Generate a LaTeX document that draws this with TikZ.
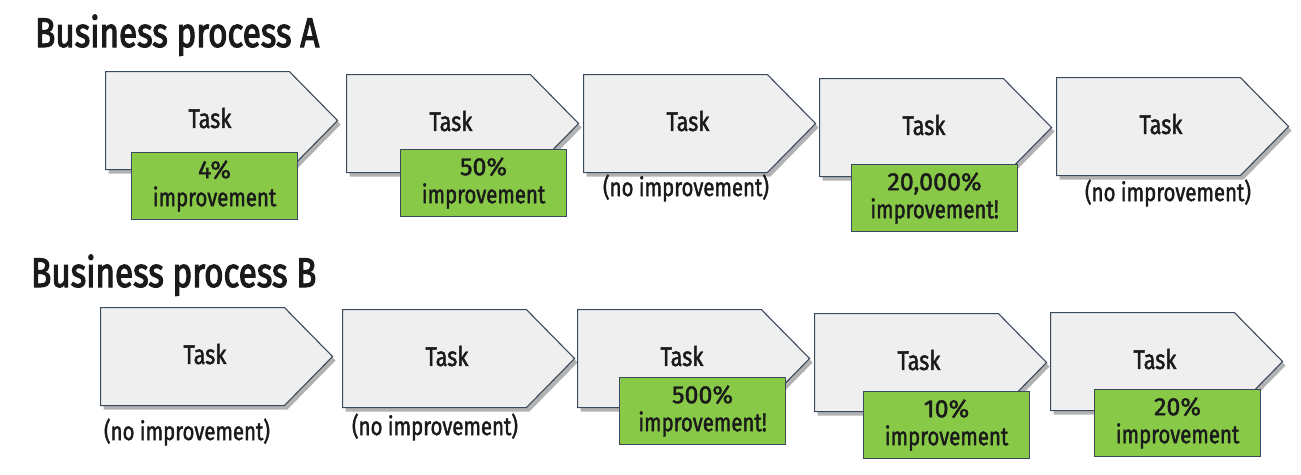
\documentclass[tikz,border=0pt]{standalone}
\usepackage{fontspec}
\newfontfamily\handc[FakeStretch=0.8,FakeBold=1.6]{Fira Sans}
\newfontfamily\hand[FakeBold=1.6]{Fira Sans}
\newfontfamily\handt[FakeStretch=0.8,FakeBold=2.6]{Fira Sans}
\usetikzlibrary{shapes.symbols,shadows}
\definecolor{edge}{HTML}{3A4A5C}
\definecolor{taskfill}{HTML}{EFEFEF}
\definecolor{gainfill}{HTML}{88C947}
\definecolor{ink}{HTML}{1A1A1A}
\tikzset{
  taskbox/.style={signal, signal to=east, signal pointer angle=91, draw=edge, fill=taskfill,
    line width=1.1pt, minimum width=232pt, minimum height=98pt, anchor=north west, inner sep=0pt,
    drop shadow={shadow xshift=3pt, shadow yshift=-4pt, opacity=0.3, fill=black}},
  tasktext/.style={font=\handc\fontsize{27}{30}\selectfont, text=ink, inner sep=0pt},
  gainbox/.style={draw=edge, fill=gainfill, line width=1.1pt, minimum width=166pt, minimum height=67pt,
    anchor=north west, align=center, inner sep=0pt, text=ink, font=\fontsize{22}{28}\selectfont},
  noimp/.style={font=\handc\fontsize{25.5}{28}\selectfont, text=ink, inner sep=0pt},
  proctitle/.style={font=\handt\fontsize{41.5}{44}\selectfont, text=ink, anchor=base west, inner sep=0pt},
}
\newcommand\gaintext[2]{{\hand\fontsize{25}{28}\selectfont #1}\\{\handc\fontsize{25.5}{28}\selectfont #2}}
\begin{document}
\begin{tikzpicture}[x=1pt,y=-1pt]
\useasboundingbox[fill=white] (0,0) rectangle (1301,474);
% titles
\node[proctitle] (ta) at (35,47) {Business process A};
\node[proctitle] (tb) at (31,287) {Business process B};
% row A
\node[taskbox] (a1) at (105,71) {};
\node[taskbox] (a2) at (346,74) {};
\node[taskbox] (a3) at (583,74) {};
\node[taskbox] (a4) at (819,78) {};
\node[taskbox] (a5) at (1056,77) {};
\foreach \n in {a1,a2,a3,a4,a5}{
  \node[tasktext] (\n t) at ([shift={(105,47)}]\n.north west) {Task};
}
\node[gainbox] (ga1) at (131,152) {\gaintext{4\%}{improvement}};
\node[gainbox] (ga2) at (400,149) {\gaintext{50\%}{improvement}};
\node[gainbox] (ga4) at (851,164) {\gaintext{20,000\%}{improvement!}};
\node[noimp] (na3) at (686,188) {(no improvement)};
\node[noimp] (na5) at (1168,193) {(no improvement)};
% row B
\node[taskbox] (b1) at (100,307) {};
\node[taskbox] (b2) at (342,309) {};
\node[taskbox] (b3) at (577,309) {};
\node[taskbox] (b4) at (814,313) {};
\node[taskbox] (b5) at (1050,312) {};
\foreach \n in {b1,b2,b3,b4,b5}{
  \node[tasktext] (\n t) at ([shift={(105,47)}]\n.north west) {Task};
}
\node[noimp] (nb1) at (187,432) {(no improvement)};
\node[noimp] (nb2) at (435,427) {(no improvement)};
\node[gainbox] (gb3) at (619,377) {\gaintext{500\%}{improvement!}};
\node[gainbox] (gb4) at (863,391) {\gaintext{10\%}{improvement}};
\node[gainbox] (gb5) at (1094,389) {\gaintext{20\%}{improvement}};
\end{tikzpicture}
\end{document}
